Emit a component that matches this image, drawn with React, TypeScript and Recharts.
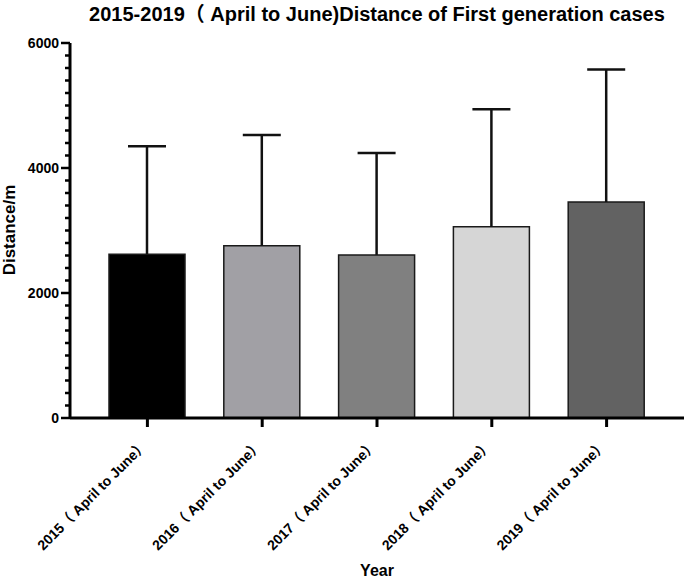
import React from 'react';
import { BarChart, Bar, XAxis, YAxis } from 'recharts';

const years = [
    '2015（ April to June）',
    '2016（ April to June）',
    '2017（ April to June）',
    '2018（ April to June）',
    '2019（ April to June）',
];
const meanDistance = [2620, 2757, 2610, 3061, 3456];
const sdDistance = [1730, 1770, 1630, 1880, 2120];
const barColors = ['#000000', '#a1a0a5', '#808080', '#d6d6d6', '#626262'];
const majorTicks = [0, 2000, 4000, 6000];

// GraphPad-style minor ticks every 200 between the majors
const yTicks: number[] = [];
for (let v = 0; v <= 6000; v += 200) yTicks.push(v);

const chartData = years.map((year, i) => ({
    year,
    mean: meanDistance[i],
    sd: sdDistance[i],
    fill: barColors[i],
}));

const FONT = '"Liberation Sans", Arial, "Noto Sans CJK SC", sans-serif';

const YTick = (props: any) => {
    const { x, y, payload } = props;
    const major = majorTicks.includes(payload.value);
    return (
        <g>
            <line x1={x - (major ? 9 : 5)} x2={x} y1={y} y2={y} stroke="#000" strokeWidth={2.5} />
            {major && (
                <text x={x - 11} y={y} dy={4.5} textAnchor="end" fontSize={14} fontWeight="bold" fontFamily={FONT} fill="#000">
                    {payload.value}
                </text>
            )}
        </g>
    );
};

const XTick = (props: any) => {
    const { x, y, payload } = props;
    const tx = x + 1;
    const ty = y + 19;
    return (
        <text x={tx} y={ty} transform={`rotate(-45, ${tx}, ${ty})`} textAnchor="end" fontSize={14} fontWeight="bold" fontFamily={FONT} fill="#000">
            {payload.value}
        </text>
    );
};

const ErrorCap = (props: any) => {
    const { x, y, width, height } = props;
    const cx = x + width / 2;
    return (
        <g>
            <line x1={cx} x2={cx} y1={y} y2={y + height} stroke="#111" strokeWidth={2.5} />
            <line x1={cx - 19} x2={cx + 19} y1={y} y2={y} stroke="#111" strokeWidth={2.5} />
        </g>
    );
};

const App: React.FC = () => {
    return (
        <div style={{ position: 'relative', width: 685, height: 578, background: '#fff' }}>
            <style>{'body{margin:0}'}</style>
            <BarChart
                width={685}
                height={578}
                data={chartData}
                margin={{ top: 43, right: 1, left: 10, bottom: 30 }}
            >
                <XAxis
                    dataKey="year"
                    height={130}
                    padding={{ left: 20, right: 20 }}
                    interval={0}
                    axisLine={{ stroke: '#000', strokeWidth: 3 }}
                    tickLine={{ stroke: '#000', strokeWidth: 3 }}
                    tickSize={9}
                    tickMargin={0}
                    tick={<XTick />}
                />
                <YAxis
                    width={60}
                    domain={[0, 6000]}
                    ticks={yTicks}
                    interval={0}
                    axisLine={{ stroke: '#000', strokeWidth: 3 }}
                    tickLine={false}
                    tickSize={0}
                    tickMargin={0}
                    tick={<YTick />}
                />
                <Bar dataKey="mean" stackId="a" barSize={76} stroke="#1a1a1a" strokeWidth={1.5} isAnimationActive={false} />
                <Bar dataKey="sd" stackId="a" barSize={76} shape={<ErrorCap />} isAnimationActive={false} />
            </BarChart>
            <svg width={685} height={578} style={{ position: 'absolute', left: 0, top: 0, pointerEvents: 'none' }}>
                <text x={377} y={21} textAnchor="middle" fontSize={20} fontWeight="bold" fontFamily={FONT} fill="#000">
                    2015-2019（ April to June)Distance of First generation cases
                </text>
                <text x={377} y={576} textAnchor="middle" fontSize={16} fontWeight="bold" fontFamily={FONT} fill="#000">
                    Year
                </text>
                <text x={15} y={230} transform="rotate(-90, 15, 230)" textAnchor="middle" fontSize={17} fontWeight="bold" fontFamily={FONT} fill="#000">
                    Distance/m
                </text>
            </svg>
        </div>
    );
};

export default App;
